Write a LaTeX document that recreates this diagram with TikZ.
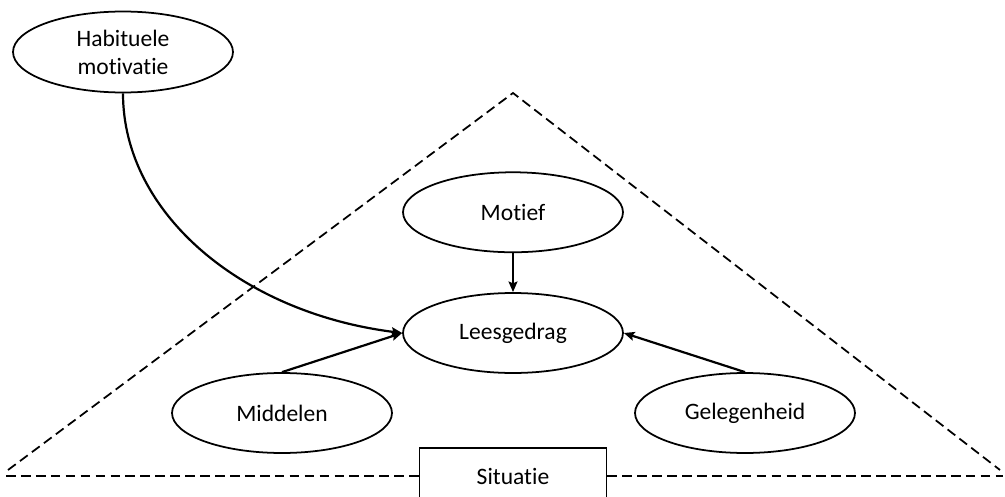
\documentclass[tikz,border=0pt]{standalone}
\usepackage{fontspec}
\setmainfont{Carlito}[RawFeature={-liga;-clig;-calt;-dlig}]
\usetikzlibrary{arrows.meta,positioning,shapes.geometric}
\tikzset{>/.tip={Stealth[length=6pt,width=5pt,inset=1pt]}}

\begin{document}
\begin{tikzpicture}[x=0.02cm,y=-0.02cm,
    font=\fontsize{13.4}{16}\selectfont,
    el/.style={draw,ellipse,line width=1pt,minimum width=4.4cm,minimum height=1.6cm,inner sep=0pt,align=center},
    dsh/.style={dash pattern=on 5.5pt off 3pt,line width=1pt},
    arr/.style={->,line width=1.25pt}]
      \useasboundingbox (0,0) rectangle (1005,497);
      \node[el](Lees) at (513,333){Leesgedrag};
      \node[el,above=0.78cm of Lees](Mot){Motief};
      \node[el](Mid) at (282,413){Middelen};
      \node[el](Gel) at (745,413){Gelegenheid};
      \node[el,minimum height=1.62cm](Hab) at (123,52){Habituele\\motivatie};
      \node[draw,fill=white,line width=1pt,minimum width=3.74cm,minimum height=1.12cm](Sit) at (513,476){Situatie};

      \coordinate (TL) at (8,470);
      \coordinate (Top) at (513,93);
      \coordinate (TR) at (1000,470);
      \coordinate (BL) at (6,476);
      \coordinate (BR) at (1003,476);

      \draw[dsh] (TL) -- (Top) -- (TR);
      \draw[dsh] (BL) -- (Sit.west) (Sit.east) -- (BR);

      \draw[arr] (Mot) -- (Lees);
      \draw[arr] (Mid.north) -- (Lees.west);
      \draw[arr] (Gel.north) -- (Lees.east);
      \draw[arr] (Hab.south) .. controls +(0,120) and +(-160,-20) .. (Lees.west);
    \end{tikzpicture}
\end{document}
